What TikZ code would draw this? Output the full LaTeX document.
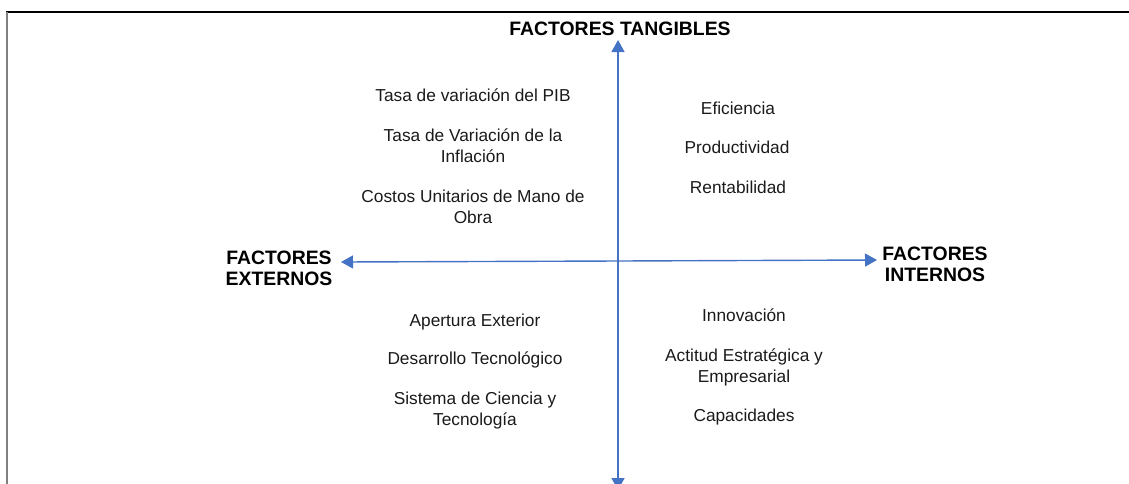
\documentclass[tikz,border=0pt]{standalone}
\usepackage{fontspec}
\setmainfont{Liberation Sans}
\usetikzlibrary{arrows.meta}
\definecolor{axisblue}{HTML}{4472C4}
\definecolor{txt}{HTML}{1A1A1A}
\tikzset{
  item/.style={font=\fontsize{17.3}{21}\selectfont, text=txt, align=center, inner sep=0pt},
  head/.style={font=\bfseries\fontsize{19.4}{21}\selectfont, text=black, align=center, inner sep=0pt},
  axis/.style={draw=axisblue, line width=1.4pt, -{Triangle[length=12pt,width=13pt]}},
}
\begin{document}
\begin{tikzpicture}[x=1pt,y=-1pt]
\useasboundingbox (0,0) rectangle (1129,483);
\clip (0,0) rectangle (1129,483);
% frame lines
\draw[black, line width=1.5pt] (6,12) -- (1129,12);
\draw[gray, line width=2pt] (7,12) -- (7,484);
% axes
\coordinate (c) at (618,261);
\coordinate (top) at (618,40);
\coordinate (bot) at (618,490);
\coordinate (lft) at (341,262);
\coordinate (rgt) at (877,260);
\draw[axis] (c) -- (top);
\draw[axis] (c) -- (bot);
\draw[axis] (c) -- (lft);
\draw[axis] (c) -- (rgt);
% headings
\node[head, anchor=base] (tang) at (620,35.5) {FACTORES TANGIBLES};
\node[head] (ext) at (279,268) {FACTORES\\EXTERNOS};
\node[head] (int) at (935,264) {FACTORES\\INTERNOS};
% top-left
\node[item, anchor=base] (pib) at (473,101) {Tasa de variación del PIB};
\node[item] (infl) at (473,146) {Tasa de Variación de la\\Inflación};
\node[item] (cost) at (473,207) {Costos Unitarios de Mano de\\Obra};
% top-right
\node[item, anchor=base] (efi) at (738,114) {Eficiencia};
\node[item, anchor=base] (prod) at (737,153) {Productividad};
\node[item, anchor=base] (rent) at (738,193) {Rentabilidad};
% bottom-left
\node[item, anchor=base] (aper) at (475,326) {Apertura Exterior};
\node[item, anchor=base] (desa) at (475,364) {Desarrollo Tecnológico};
\node[item] (sist) at (475,411) {Sistema de Ciencia y\\Tecnología};
% bottom-right
\node[item, anchor=base] (inno) at (744,321) {Innovación};
\node[item] (acti) at (744,367) {Actitud Estratégica y\\Empresarial};
\node[item, anchor=base] (capa) at (744,421) {Capacidades};
\end{tikzpicture}
\end{document}
